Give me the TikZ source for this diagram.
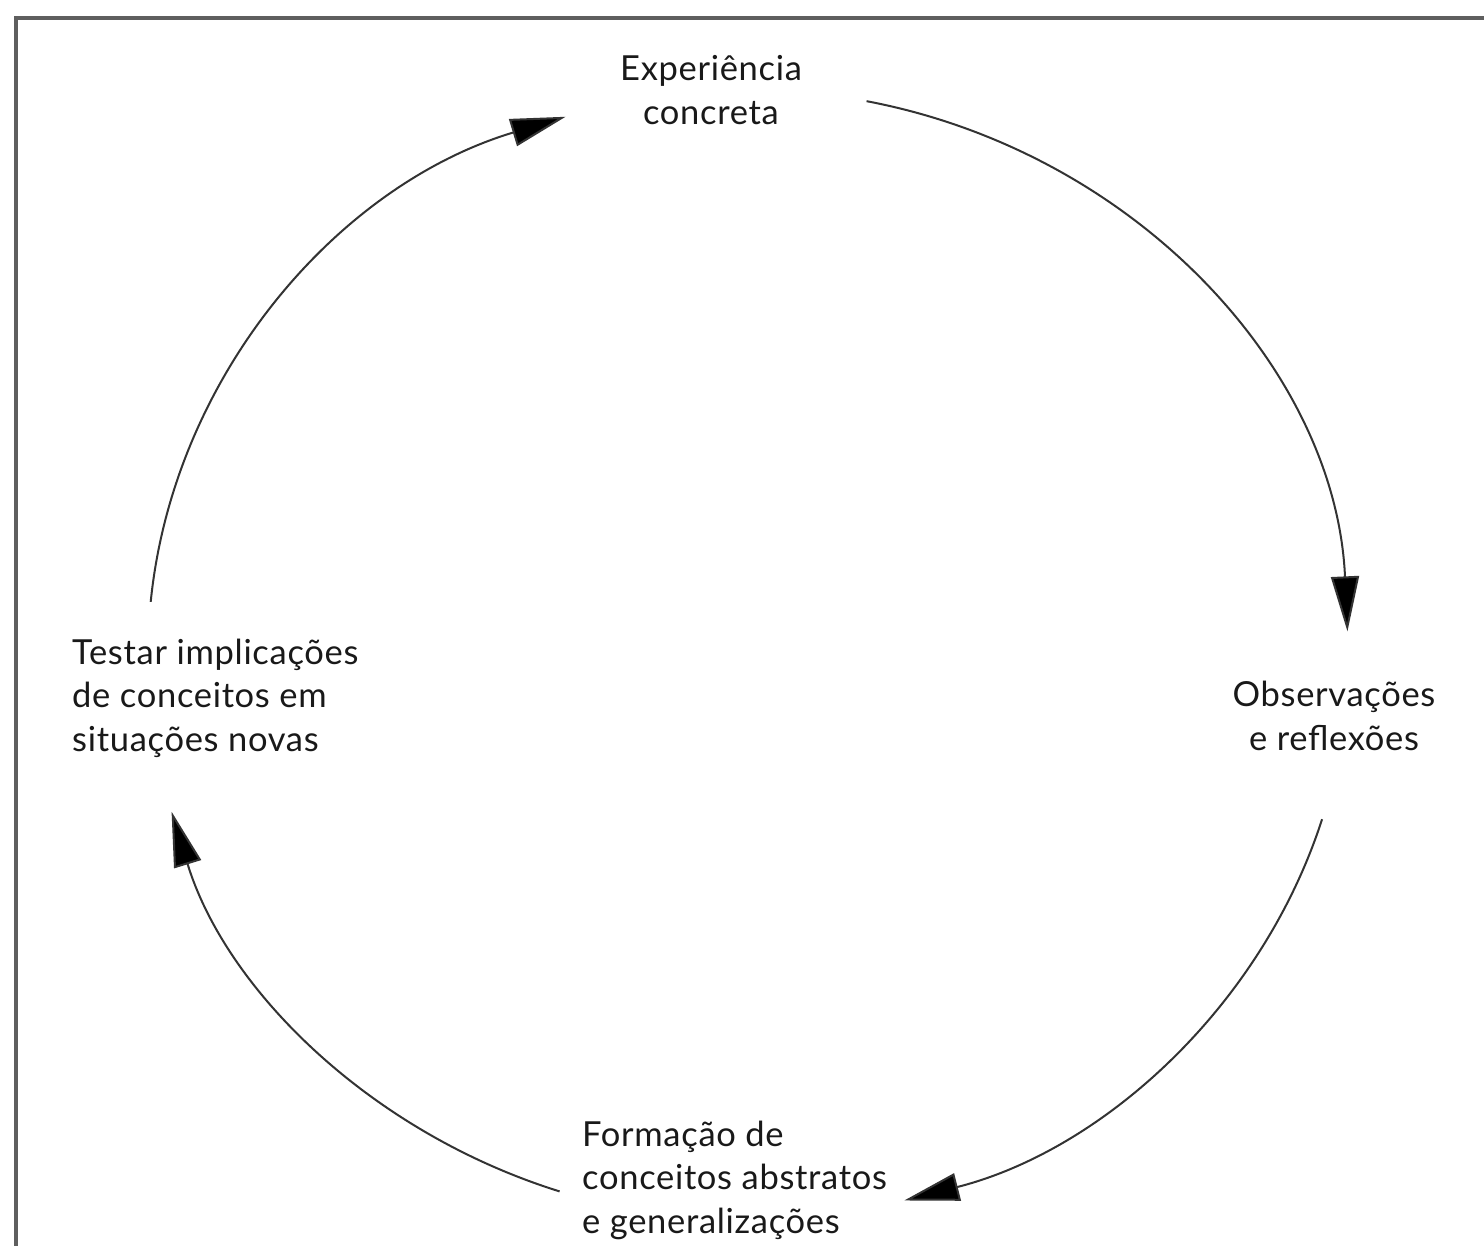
\documentclass[tikz,border=0pt]{standalone}
\usepackage{fontspec}
\setmainfont[LetterSpace=2]{Lato}
\usetikzlibrary{arrows.meta}
\begin{document}
\begin{tikzpicture}[x=1pt,y=1pt,
  label/.style={font=\fontsize{34.5}{43.5}\selectfont, inner sep=0pt, text=black!90},
  cyc/.style={line width=2pt, draw=black!80, -{Triangle[length=55pt,width=28pt,fill=black]}}]
  \useasboundingbox (0,0) rectangle (1484,-1246);
  % outer frame, running off the right and bottom edges
  \draw[line width=3.5pt, draw={rgb,255:red,95;green,95;blue,95}] (16,-1300) -- (16,-18) -- (1540,-18);

  % cycle centre
  \coordinate (c) at (748,-655);

  % stage labels
  \node[label, align=center] (exp) at (711,-90) {Experiência\\concreta};
  \node[label, align=center] (obs) at (1334,-716) {Observações\\e reflexões};
  \node[label, align=left, anchor=west] (form) at (582,-1180) {Formação de\\conceitos abstratos\\e generalizações};
  \node[label, align=left, anchor=west] (test) at (72,-698) {Testar implicações\\de conceitos em\\situações novas};

  % arc end points on the ellipse
  \coordinate (a1) at ([shift={(78.6:600pt and 565pt)}]c);
  \coordinate (a2) at ([shift={(-16.9:600pt and 565pt)}]c);
  \coordinate (a3) at ([shift={(251.7:600pt and 565pt)}]c);
  \coordinate (a4) at ([shift={(174.6:600pt and 565pt)}]c);

  % the four arrows of the cycle
  \draw[cyc] (a1) arc[start angle=78.6, end angle=2.4, x radius=600pt, y radius=565pt];
  \draw[cyc] (a2) arc[start angle=-16.9, end angle=-74.9, x radius=600pt, y radius=565pt];
  \draw[cyc] (a3) arc[start angle=251.7, end angle=196.1, x radius=600pt, y radius=565pt];
  \draw[cyc] (a4) arc[start angle=174.6, end angle=107.7, x radius=600pt, y radius=565pt];
\end{tikzpicture}
\end{document}
